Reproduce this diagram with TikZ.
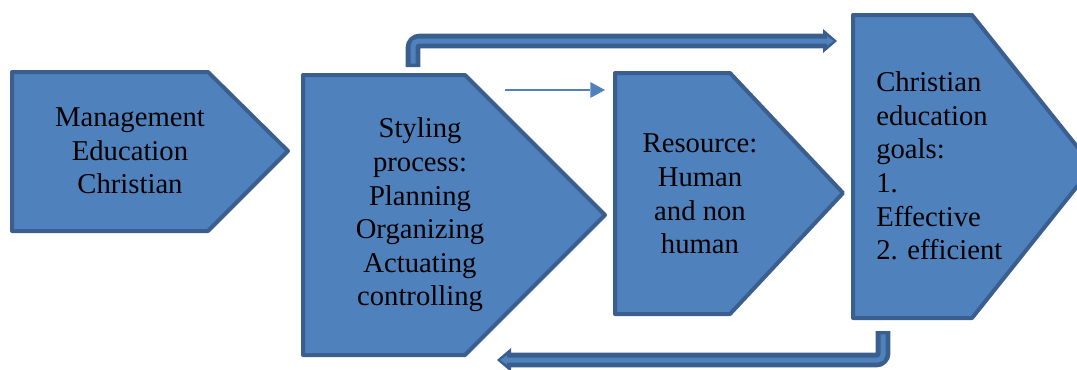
\documentclass[tikz,border=0pt]{standalone}
\usepackage{fontspec}
\setmainfont{Liberation Serif}
\usetikzlibrary{arrows.meta}
\definecolor{boxfill}{HTML}{4F81BD}
\definecolor{boxline}{HTML}{3A5F8E}
\begin{document}
\begin{tikzpicture}[x=0.75pt,y=-0.75pt,
  chevbox/.style={fill=boxfill,draw=boxline,line width=3pt,line join=round},
  boxtext/.style={inner sep=0pt,font=\fontsize{21.5}{25.2}\selectfont,text=black},
  bigouter/.style={draw=boxline,line width=11pt,rounded corners=5pt,
     -{Triangle[length=10.5pt,width=18pt,line width=0pt]}},
  biginner/.style={draw=boxfill,line width=3.75pt,rounded corners=4pt,
     shorten >=2.5pt,shorten <=2.5pt,-{Triangle[length=5pt,width=7pt,line width=0pt]}},
  thinarrow/.style={draw=boxfill,line width=1.5pt,-{Triangle[length=11pt,width=12pt,line width=0pt]}}]
\useasboundingbox (0,0) rectangle (1077,369);
\clip (0,0) rectangle (1077,369);
% shapes
\path[chevbox] (12,72) -- (208,72) -- (288,151) -- (208,231) -- (12,231) -- cycle;
\path[chevbox] (303,75) -- (465,75) -- (605,215) -- (465,355) -- (303,355) -- cycle;
\path[chevbox] (615,73) -- (730,73) -- (843,193) -- (730,314) -- (615,314) -- cycle;
\path[chevbox] (853,15) -- (972,15) -- (1093,166.5) -- (972,318) -- (853,318) -- cycle;
% texts
\node[boxtext,align=center] (mgmt) at (130,151) {Management\\Education\\Christian};
\node[boxtext,align=center] (proc) at (420,215) {Styling\\process:\\Planning\\Organizing\\Actuating\\controlling};
\node[boxtext,align=center] (res) at (700,194) {Resource:\\Human\\and non\\human};
\node[boxtext,align=left,anchor=west] (goal) at (876,166) {Christian\\education\\goals:\\1.\\Effective\\2. efficient};
% connector end points
\coordinate (procTop) at (413,67);
\coordinate (goalIn) at (837,41);
\coordinate (goalBot) at (883,331);
\coordinate (procIn) at (497,360);
\coordinate (thinA) at (505,90);
\coordinate (thinB) at (605,90);
% connectors
\draw[bigouter] (procTop) |- (goalIn);
\draw[biginner] (procTop) |- (goalIn);
\draw[bigouter] (goalBot) |- (procIn);
\draw[biginner] (goalBot) |- (procIn);
\draw[thinarrow] (thinA) -- (thinB);
\end{tikzpicture}
\end{document}
